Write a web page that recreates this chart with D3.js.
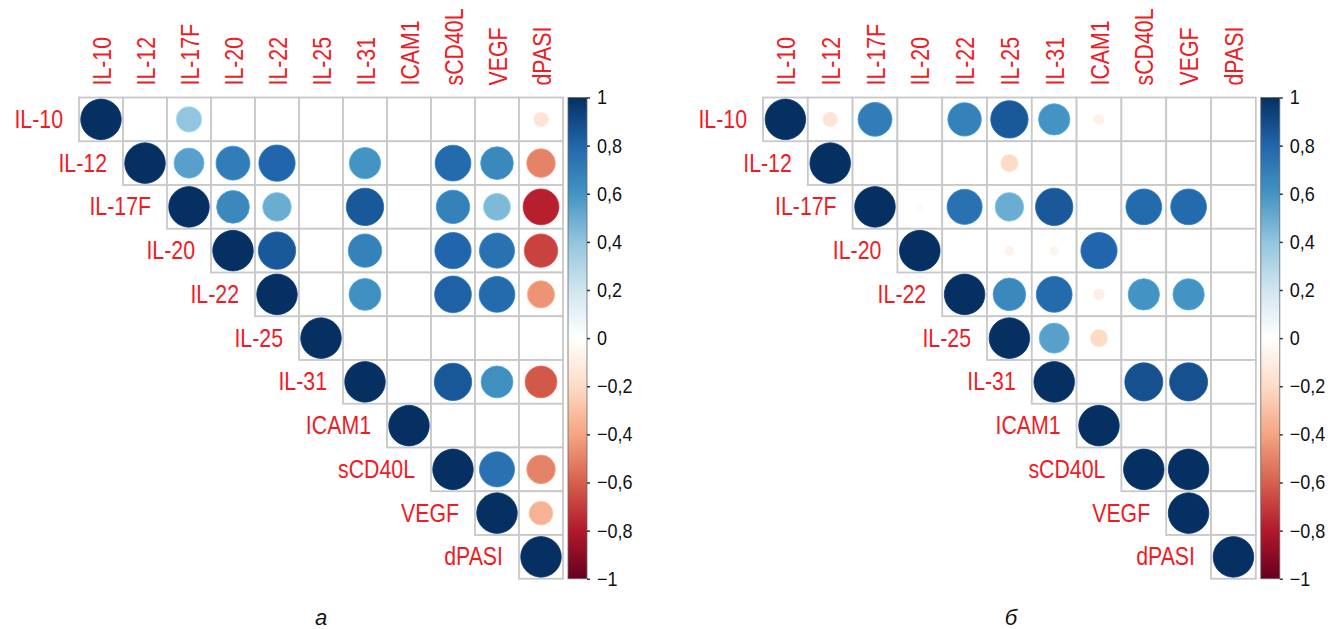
<!DOCTYPE html>
<html>
<head>
<meta charset="utf-8">
<script src="https://cdn.jsdelivr.net/npm/d3@7"></script>
<style>
  body { margin: 0; background: #fff; }
  svg { display: block; }
  .lab { font-family: "Liberation Sans", Arial, sans-serif; fill: #ee1c25; font-size: 26px; }
  .tick text { font-family: "Liberation Sans", Arial, sans-serif; font-size: 20px; fill: #111; }
  .cap { font-family: "Liberation Sans", sans-serif; font-style: italic; font-size: 22px; fill: #111; }
</style>
</head>
<body>
<svg width="1335" height="629"></svg>
<script>
var vars = ["IL-10","IL-12","IL-17F","IL-20","IL-22","IL-25","IL-31","ICAM1","sCD40L","VEGF","dPASI"];

// upper triangle, each row starts at the diagonal
var corrA = [
  [1, 0, 0.4, 0, 0, 0, 0, 0, 0, 0, -0.15],
  [1, 0.55, 0.7, 0.8, 0, 0.6, 0, 0.78, 0.65, -0.5],
  [1, 0.65, 0.5, 0, 0.85, 0, 0.68, 0.45, -0.78],
  [1, 0.85, 0, 0.68, 0, 0.8, 0.75, -0.68],
  [1, 0, 0.62, 0, 0.82, 0.78, -0.45],
  [1, 0, 0, 0, 0, 0],
  [1, 0, 0.85, 0.62, -0.62],
  [1, 0, 0, 0],
  [1, 0.75, -0.5],
  [1, -0.35],
  [1]
];

var corrB = [
  [1, -0.15, 0.7, 0.01, 0.68, 0.85, 0.6, -0.08, 0, 0, 0],
  [1, 0, 0, 0, -0.2, 0, 0, 0, 0, 0],
  [1, -0.04, 0.75, 0.5, 0.85, 0, 0.78, 0.78, 0],
  [1, 0.01, -0.07, -0.06, 0.8, 0, 0, 0],
  [1, 0.65, 0.78, -0.09, 0.6, 0.6, 0],
  [1, 0.55, -0.2, 0, 0, 0],
  [1, 0, 0.88, 0.88, 0],
  [1, 0, 0, 0],
  [1, 1, 0],
  [1, 0],
  [1]
];

var legendTicks = [1, 0.8, 0.6, 0.4, 0.2, 0, -0.2, -0.4, -0.6, -0.8, -1];

var palette = ["#67001F","#B2182B","#D6604D","#F4A582","#FDDBC7","#FFFFFF","#D1E5F0","#92C5DE","#4393C3","#2166AC","#053061"];
var color = d3.scaleLinear()
  .domain(d3.range(palette.length).map(i => -1 + 2*i/(palette.length-1)))
  .range(palette);

var svg = d3.select("svg");

var defs = svg.append("defs");
var grad = defs.append("linearGradient").attr("id","cbar")
  .attr("x1",0).attr("y1",1).attr("x2",0).attr("y2",0);
palette.forEach(function(c,i){
  grad.append("stop").attr("offset", (i/(palette.length-1)*100)+"%").attr("stop-color", c);
});

var fmt = function(v){
  var s = d3.format(".1f")(Math.abs(v)).replace(".", ",");
  if (v === 1 || v === -1 || v === 0) s = String(Math.abs(v));
  return (v < 0 ? "\u2212" : "") + s;
};

var narrow = 0.82;

function corrplot(data, x0, cw, caption, capX){
  var y0 = 97.5, ch = 43.75;
  var x = d3.scaleBand().domain(vars).range([x0, x0 + cw*vars.length]);
  var y = d3.scaleBand().domain(vars).range([y0, y0 + ch*vars.length]);
  var r = d3.scaleSqrt().domain([0,1]).range([0, Math.min(cw, ch)/2 - 1.6]);

  var cells = [];
  data.forEach(function(row, i){
    row.forEach(function(v, k){
      cells.push({row: vars[i], col: vars[i+k], v: v});
    });
  });

  var g = svg.append("g");

  g.selectAll("rect.cell").data(cells).enter().append("rect")
    .attr("class","cell")
    .attr("x", d => x(d.col)).attr("y", d => y(d.row))
    .attr("width", x.bandwidth()).attr("height", y.bandwidth())
    .attr("fill","#fff").attr("stroke","#c8c8c8").attr("stroke-width",1.8);

  g.selectAll("circle").data(cells.filter(d => d.v !== 0)).enter().append("circle")
    .attr("cx", d => x(d.col) + x.bandwidth()/2)
    .attr("cy", d => y(d.row) + y.bandwidth()/2)
    .attr("r", d => r(Math.abs(d.v)))
    .attr("fill", d => color(d.v))
    .attr("stroke", d => d3.color(color(d.v)).brighter(0.5))
    .attr("stroke-width", 0.8);

  // row labels, right aligned next to the diagonal
  g.selectAll("text.rl").data(vars).enter().append("text")
    .attr("class","lab rl")
    .attr("transform", d => "translate(" + (x(d) - 16) + "," + (y(d) + y.bandwidth()/2 + 8.5) + ") scale(" + narrow + ",1)")
    .attr("text-anchor","end")
    .text(d => d);

  // column labels, rotated
  g.selectAll("text.cl").data(vars).enter().append("text")
    .attr("class","lab cl")
    .attr("transform", d => "translate(" + (x(d) + x.bandwidth()/2 + 9.5) + "," + (y0 - 12) + ") rotate(-90) scale(" + narrow + ",1)")
    .attr("text-anchor","start")
    .text(d => d);

  // colour legend
  var bx = x0 + cw*vars.length + 5, bw = 19;
  var ly = d3.scaleLinear().domain([-1,1]).range([y0 + ch*vars.length, y0]);
  g.append("rect").attr("x", bx).attr("y", y0).attr("width", bw).attr("height", ch*vars.length)
    .attr("fill","url(#cbar)").attr("stroke","#666").attr("stroke-width",0.8);

  var ax = g.append("g").attr("transform","translate(" + (bx + bw) + ",0)")
    .call(d3.axisRight(ly).tickValues(legendTicks).tickFormat(fmt).tickSize(3).tickPadding(8));
  ax.select(".domain").remove();
  ax.selectAll(".tick line").attr("stroke","#333").attr("stroke-width",1.5);
  ax.selectAll(".tick text").attr("transform","scale(0.9,1)");

  svg.append("text").attr("class","cap").attr("x", capX).attr("y", 625)
    .attr("text-anchor","middle").text(caption);
}

corrplot(corrA, 79, 44, "а", 321);
corrplot(corrB, 763, 44.8, "б", 1011);
</script>
</body>
</html>
